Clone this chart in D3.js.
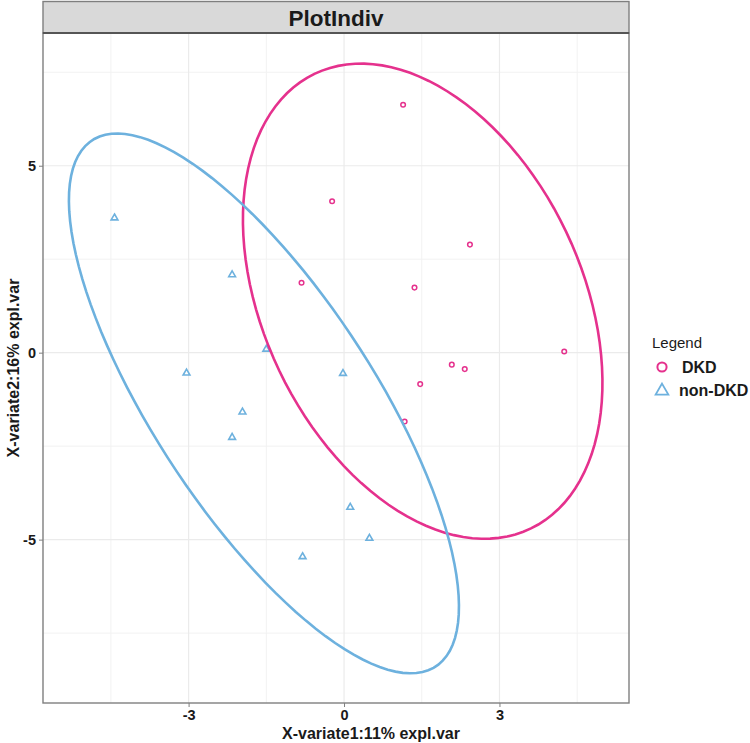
<!DOCTYPE html>
<html>
<head>
<meta charset="utf-8">
<script src="https://cdn.jsdelivr.net/npm/d3@7"></script>
<style>
  html, body { margin: 0; padding: 0; background: #fff; }
  svg { display: block; font-family: "Liberation Sans", Arial, Helvetica, sans-serif; }
</style>
</head>
<body>
<svg id="chart" width="750" height="743"></svg>
<script>
// ---- data ----
const groups = ["DKD", "non-DKD"];
const dkdX = [1.14, -0.23, 2.43, -0.82, 1.36, 4.25, 2.08, 2.33, 1.47, 1.17];
const dkdY = [6.63, 4.05, 2.89, 1.87, 1.74, 0.03, -0.32, -0.44, -0.84, -1.84];
const nonX = [-4.43, -2.16, -1.50, -3.04, -0.02, -1.96, -2.16, 0.12, 0.49, -0.80];
const nonY = [3.62, 2.10, 0.11, -0.53, -0.54, -1.57, -2.25, -4.12, -4.95, -5.44];
const xTicks = [-3, 0, 3];
const yTicks = [-5, 0, 5];
const xMinor = [-4.5, -1.5, 1.5, 4.5];
const yMinor = [-7.5, -2.5, 2.5, 7.5];
const xLimits = [-5.81, 5.50];
const yLimits = [-9.37, 8.55];
const title = "PlotIndiv";
const xLabel = "X-variate1:11% expl.var";
const yLabel = "X-variate2:16% expl.var";
const legendTitle = "Legend";
const ellipseLevelChi2 = 5.991464547107979; // qchisq(0.95, 2)

const colors = { "DKD": "#E5318D", "non-DKD": "#6DB1DE" };

// ---- layout ----
const panel = { left: 43, right: 629, top: 33, bottom: 703 };
const svg = d3.select("#chart");

const x = d3.scaleLinear().domain(xLimits).range([panel.left, panel.right]);
const y = d3.scaleLinear().domain(yLimits).range([panel.bottom, panel.top]);

svg.append("rect").attr("x", panel.left).attr("y", panel.top)
  .attr("width", panel.right - panel.left).attr("height", panel.bottom - panel.top)
  .attr("fill", "#fff");

// grid
const grid = svg.append("g");
grid.selectAll(".xminor").data(xMinor).join("line")
  .attr("x1", d => x(d)).attr("x2", d => x(d)).attr("y1", panel.top).attr("y2", panel.bottom)
  .attr("stroke", "#F2F2F2").attr("stroke-width", 1);
grid.selectAll(".yminor").data(yMinor).join("line")
  .attr("y1", d => y(d)).attr("y2", d => y(d)).attr("x1", panel.left).attr("x2", panel.right)
  .attr("stroke", "#F2F2F2").attr("stroke-width", 1);
grid.selectAll(".xmajor").data(xTicks).join("line")
  .attr("x1", d => x(d)).attr("x2", d => x(d)).attr("y1", panel.top).attr("y2", panel.bottom)
  .attr("stroke", "#EBEBEB").attr("stroke-width", 1.2);
grid.selectAll(".ymajor").data(yTicks).join("line")
  .attr("y1", d => y(d)).attr("y2", d => y(d)).attr("x1", panel.left).attr("x2", panel.right)
  .attr("stroke", "#EBEBEB").attr("stroke-width", 1.2);

// ellipse computation (as ellipse::ellipse on the sample covariance)
function ellipsePoints(xs, ys, n = 120) {
  const mx = d3.mean(xs), my = d3.mean(ys);
  const sx = d3.deviation(xs), sy = d3.deviation(ys);
  let cov = 0;
  for (let i = 0; i < xs.length; i++) cov += (xs[i] - mx) * (ys[i] - my);
  cov /= (xs.length - 1);
  const r = cov / (sx * sy);
  const t = Math.sqrt(ellipseLevelChi2);
  const dAng = Math.acos(r);
  const pts = [];
  for (let k = 0; k < n; k++) {
    const a = (2 * Math.PI * k) / n;
    pts.push([t * sx * Math.cos(a + dAng / 2) + mx, t * sy * Math.cos(a - dAng / 2) + my]);
  }
  return pts;
}

const series = [
  { name: "DKD", xs: dkdX, ys: dkdY },
  { name: "non-DKD", xs: nonX, ys: nonY }
];

const plotG = svg.append("g");
const line = d3.line().x(d => x(d[0])).y(d => y(d[1])).curve(d3.curveLinearClosed);

// points
series.forEach(s => {
  const pts = s.xs.map((v, i) => [v, s.ys[i]]);
  if (s.name === "DKD") {
    plotG.selectAll(null).data(pts).join("circle")
      .attr("cx", d => x(d[0])).attr("cy", d => y(d[1])).attr("r", 2.3)
      .attr("fill", "none").attr("stroke", colors[s.name]).attr("stroke-width", 1.5);
  } else {
    plotG.selectAll(null).data(pts).join("path")
      .attr("d", d3.symbol().type(d3.symbolTriangle).size(20))
      .attr("transform", d => `translate(${x(d[0])},${y(d[1]) + 0.6})`)
      .attr("fill", "none").attr("stroke", colors[s.name]).attr("stroke-width", 1.6);
  }
});

// ellipses
series.forEach(s => {
  plotG.append("path").datum(ellipsePoints(s.xs, s.ys))
    .attr("d", line).attr("fill", "none")
    .attr("stroke", colors[s.name]).attr("stroke-width", 2.6);
});

// panel border
svg.append("rect").attr("x", panel.left).attr("y", panel.top)
  .attr("width", panel.right - panel.left).attr("height", panel.bottom - panel.top)
  .attr("fill", "none").attr("stroke", "#7F7F7F").attr("stroke-width", 1.4);

// strip
svg.append("rect").attr("x", panel.left).attr("y", 1.5)
  .attr("width", panel.right - panel.left).attr("height", panel.top - 1.5)
  .attr("fill", "#D9D9D9").attr("stroke", "#7F7F7F").attr("stroke-width", 1.4);
svg.append("line").attr("x1", panel.left).attr("x2", panel.right)
  .attr("y1", panel.top).attr("y2", panel.top)
  .attr("stroke", "#555").attr("stroke-width", 2.2);
svg.append("text").attr("x", (panel.left + panel.right) / 2).attr("y", 25.5)
  .attr("text-anchor", "middle").attr("font-size", 22.5).attr("font-weight", "bold")
  .attr("fill", "#1A1A1A").text(title);

// axes
const fmt = d => String(d);
const xAxis = d3.axisBottom(x).tickValues(xTicks).tickSize(4).tickPadding(3).tickFormat(fmt);
const yAxis = d3.axisLeft(y).tickValues(yTicks).tickSize(4).tickPadding(3).tickFormat(fmt);
const gx = svg.append("g").attr("transform", `translate(0,${panel.bottom})`).call(xAxis);
const gy = svg.append("g").attr("transform", `translate(${panel.left},0)`).call(yAxis);
[gx, gy].forEach(g => {
  g.select(".domain").remove();
  g.selectAll(".tick line").attr("stroke", "#7F7F7F").attr("stroke-width", 1);
  g.selectAll(".tick text").attr("font-size", 14.5).attr("font-weight", "bold")
    .attr("fill", "#1A1A1A").attr("font-family", "'Liberation Sans', Arial, sans-serif");
});

// axis titles
svg.append("text").attr("x", 371).attr("y", 739)
  .attr("text-anchor", "middle").attr("font-size", 16).attr("font-weight", "bold")
  .attr("fill", "#1A1A1A").text(xLabel);
svg.append("text").attr("transform", `translate(19,${(panel.top + panel.bottom) / 2}) rotate(-90)`)
  .attr("text-anchor", "middle").attr("font-size", 16).attr("font-weight", "bold")
  .attr("fill", "#1A1A1A").text(yLabel);

// legend
const lg = svg.append("g");
lg.append("text").attr("x", 652).attr("y", 348).attr("font-size", 15)
  .attr("fill", "#1A1A1A").text(legendTitle);
const legendRows = [
  { name: groups[0], y: 367, tx: 682 },
  { name: groups[1], y: 390, tx: 679 }
];
legendRows.forEach((r, i) => {
  if (i === 0) {
    lg.append("circle").attr("cx", 662).attr("cy", r.y).attr("r", 4.6)
      .attr("fill", "none").attr("stroke", colors[r.name]).attr("stroke-width", 2);
  } else {
    lg.append("path").attr("d", d3.symbol().type(d3.symbolTriangle).size(70))
      .attr("transform", `translate(662,${r.y + 1})`)
      .attr("fill", "none").attr("stroke", colors[r.name]).attr("stroke-width", 1.8);
  }
  lg.append("text").attr("x", r.tx).attr("y", r.y + 5.5).attr("font-size", 16)
    .attr("font-weight", "bold").attr("fill", "#1A1A1A").text(r.name);
});
</script>
</body>
</html>
